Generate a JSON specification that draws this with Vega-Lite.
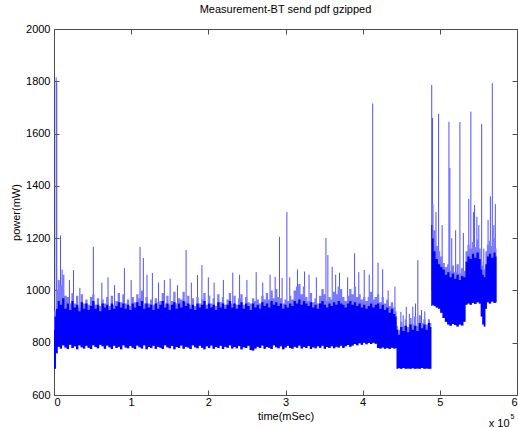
{
  "$schema": "https://vega.github.io/schema/vega-lite/v6.json",
  "width": 463,
  "height": 366,
  "autosize": "none",
  "padding": {"left": 54, "top": 29, "right": 1, "bottom": 32},
  "title": {"text": "Measurement-BT send pdf gzipped", "fontSize": 11, "fontWeight": "normal", "font": "Liberation Sans", "color": "black", "offset": 8},
  "config": {
    "view": {"stroke": null},
    "font": "Liberation Sans",
    "axis": {"labelFontSize": 11, "titleFontSize": 11, "titleFontWeight": "normal", "labelColor": "black", "titleColor": "black", "domainColor": "#4d4d4d", "tickColor": "#4d4d4d", "grid": false, "labelFont": "Liberation Sans", "titleFont": "Liberation Sans"}
  },
  "datasets": {
    "band": [
      {"t": 0, "low": 700, "high": 850, "peak": 920},
      {"t": 1500, "low": 700, "high": 900, "peak": 920},
      {"t": 3500, "low": 760, "high": 930, "peak": 1000},
      {"t": 6000, "low": 785, "high": 960, "peak": 1040},
      {"t": 9000, "low": 778, "high": 945, "peak": 1020},
      {"t": 12000, "low": 790, "high": 970, "peak": 1060},
      {"t": 15000, "low": 782, "high": 930, "peak": 980},
      {"t": 18000, "low": 776, "high": 950, "peak": 975},
      {"t": 21000, "low": 792, "high": 925, "peak": 950},
      {"t": 24000, "low": 780, "high": 960, "peak": 990},
      {"t": 27000, "low": 786, "high": 935, "peak": 950},
      {"t": 30000, "low": 775, "high": 945, "peak": 980},
      {"t": 33000, "low": 790, "high": 920, "peak": 935},
      {"t": 36000, "low": 783, "high": 955, "peak": 985},
      {"t": 39000, "low": 778, "high": 930, "peak": 950},
      {"t": 42000, "low": 788, "high": 950, "peak": 965},
      {"t": 45000, "low": 781, "high": 925, "peak": 945},
      {"t": 48000, "low": 776, "high": 940, "peak": 975},
      {"t": 51000, "low": 790, "high": 960, "peak": 985},
      {"t": 54000, "low": 784, "high": 930, "peak": 945},
      {"t": 57000, "low": 779, "high": 945, "peak": 970},
      {"t": 60000, "low": 792, "high": 920, "peak": 940},
      {"t": 63000, "low": 786, "high": 950, "peak": 965},
      {"t": 66000, "low": 777, "high": 935, "peak": 950},
      {"t": 69000, "low": 789, "high": 945, "peak": 975},
      {"t": 72000, "low": 783, "high": 925, "peak": 940},
      {"t": 75000, "low": 776, "high": 950, "peak": 980},
      {"t": 78000, "low": 788, "high": 930, "peak": 945},
      {"t": 81000, "low": 780, "high": 940, "peak": 960},
      {"t": 84000, "low": 785, "high": 955, "peak": 990},
      {"t": 87000, "low": 775, "high": 935, "peak": 955},
      {"t": 90000, "low": 790, "high": 950, "peak": 985},
      {"t": 93000, "low": 782, "high": 930, "peak": 950},
      {"t": 96000, "low": 779, "high": 945, "peak": 965},
      {"t": 99000, "low": 787, "high": 925, "peak": 940},
      {"t": 102000, "low": 781, "high": 950, "peak": 975},
      {"t": 105000, "low": 776, "high": 935, "peak": 955},
      {"t": 108000, "low": 789, "high": 955, "peak": 985},
      {"t": 111000, "low": 783, "high": 940, "peak": 970},
      {"t": 114000, "low": 778, "high": 960, "peak": 1000},
      {"t": 117000, "low": 790, "high": 930, "peak": 950},
      {"t": 120000, "low": 775, "high": 950, "peak": 975},
      {"t": 123000, "low": 784, "high": 935, "peak": 950},
      {"t": 126000, "low": 780, "high": 945, "peak": 965},
      {"t": 129000, "low": 788, "high": 925, "peak": 945},
      {"t": 132000, "low": 777, "high": 950, "peak": 970},
      {"t": 135000, "low": 785, "high": 930, "peak": 955},
      {"t": 138000, "low": 781, "high": 945, "peak": 960},
      {"t": 141000, "low": 776, "high": 960, "peak": 990},
      {"t": 144000, "low": 790, "high": 935, "peak": 950},
      {"t": 147000, "low": 783, "high": 950, "peak": 980},
      {"t": 150000, "low": 779, "high": 925, "peak": 945},
      {"t": 153000, "low": 787, "high": 945, "peak": 960},
      {"t": 156000, "low": 775, "high": 955, "peak": 995},
      {"t": 159000, "low": 784, "high": 930, "peak": 950},
      {"t": 162000, "low": 780, "high": 950, "peak": 970},
      {"t": 165000, "low": 789, "high": 935, "peak": 965},
      {"t": 168000, "low": 777, "high": 960, "peak": 995},
      {"t": 171000, "low": 785, "high": 940, "peak": 955},
      {"t": 174000, "low": 782, "high": 950, "peak": 980},
      {"t": 177000, "low": 776, "high": 930, "peak": 945},
      {"t": 180000, "low": 790, "high": 945, "peak": 970},
      {"t": 183000, "low": 783, "high": 925, "peak": 940},
      {"t": 186000, "low": 779, "high": 950, "peak": 975},
      {"t": 189000, "low": 788, "high": 935, "peak": 950},
      {"t": 192000, "low": 781, "high": 945, "peak": 965},
      {"t": 195000, "low": 775, "high": 960, "peak": 990},
      {"t": 198000, "low": 786, "high": 930, "peak": 945},
      {"t": 201000, "low": 780, "high": 950, "peak": 980},
      {"t": 204000, "low": 789, "high": 935, "peak": 950},
      {"t": 207000, "low": 777, "high": 945, "peak": 970},
      {"t": 210000, "low": 784, "high": 925, "peak": 940},
      {"t": 213000, "low": 780, "high": 955, "peak": 985},
      {"t": 216000, "low": 788, "high": 935, "peak": 955},
      {"t": 219000, "low": 776, "high": 950, "peak": 975},
      {"t": 222000, "low": 785, "high": 930, "peak": 945},
      {"t": 225000, "low": 781, "high": 945, "peak": 965},
      {"t": 228000, "low": 790, "high": 960, "peak": 990},
      {"t": 231000, "low": 778, "high": 935, "peak": 950},
      {"t": 234000, "low": 784, "high": 950, "peak": 980},
      {"t": 237000, "low": 779, "high": 930, "peak": 945},
      {"t": 240000, "low": 787, "high": 945, "peak": 970},
      {"t": 243000, "low": 775, "high": 955, "peak": 985},
      {"t": 246000, "low": 783, "high": 930, "peak": 945},
      {"t": 249000, "low": 780, "high": 950, "peak": 975},
      {"t": 252000, "low": 788, "high": 940, "peak": 955},
      {"t": 255000, "low": 772, "high": 925, "peak": 950},
      {"t": 258000, "low": 770, "high": 950, "peak": 970},
      {"t": 261000, "low": 778, "high": 935, "peak": 960},
      {"t": 264000, "low": 785, "high": 945, "peak": 965},
      {"t": 267000, "low": 780, "high": 930, "peak": 950},
      {"t": 270000, "low": 789, "high": 955, "peak": 980},
      {"t": 273000, "low": 777, "high": 940, "peak": 965},
      {"t": 276000, "low": 784, "high": 950, "peak": 990},
      {"t": 279000, "low": 781, "high": 935, "peak": 965},
      {"t": 282000, "low": 776, "high": 960, "peak": 1000},
      {"t": 285000, "low": 790, "high": 945, "peak": 970},
      {"t": 288000, "low": 783, "high": 955, "peak": 1005},
      {"t": 291000, "low": 779, "high": 940, "peak": 975},
      {"t": 294000, "low": 786, "high": 950, "peak": 970},
      {"t": 297000, "low": 775, "high": 930, "peak": 950},
      {"t": 300000, "low": 782, "high": 945, "peak": 965},
      {"t": 303000, "low": 788, "high": 935, "peak": 960},
      {"t": 306000, "low": 780, "high": 950, "peak": 980},
      {"t": 309000, "low": 777, "high": 940, "peak": 965},
      {"t": 312000, "low": 785, "high": 960, "peak": 1000},
      {"t": 315000, "low": 781, "high": 950, "peak": 1015},
      {"t": 318000, "low": 789, "high": 965, "peak": 1025},
      {"t": 321000, "low": 778, "high": 945, "peak": 985},
      {"t": 324000, "low": 784, "high": 960, "peak": 1015},
      {"t": 327000, "low": 780, "high": 950, "peak": 975},
      {"t": 330000, "low": 787, "high": 940, "peak": 960},
      {"t": 333000, "low": 776, "high": 955, "peak": 990},
      {"t": 336000, "low": 783, "high": 935, "peak": 955},
      {"t": 339000, "low": 779, "high": 945, "peak": 970},
      {"t": 342000, "low": 786, "high": 930, "peak": 950},
      {"t": 345000, "low": 781, "high": 950, "peak": 980},
      {"t": 348000, "low": 788, "high": 960, "peak": 1005},
      {"t": 351000, "low": 777, "high": 945, "peak": 985},
      {"t": 354000, "low": 784, "high": 935, "peak": 960},
      {"t": 357000, "low": 780, "high": 950, "peak": 975},
      {"t": 360000, "low": 786, "high": 940, "peak": 965},
      {"t": 363000, "low": 779, "high": 955, "peak": 995},
      {"t": 366000, "low": 785, "high": 945, "peak": 985},
      {"t": 369000, "low": 782, "high": 960, "peak": 1015},
      {"t": 372000, "low": 788, "high": 950, "peak": 1005},
      {"t": 375000, "low": 780, "high": 945, "peak": 975},
      {"t": 378000, "low": 786, "high": 935, "peak": 960},
      {"t": 381000, "low": 791, "high": 950, "peak": 980},
      {"t": 384000, "low": 785, "high": 960, "peak": 1005},
      {"t": 387000, "low": 789, "high": 945, "peak": 985},
      {"t": 390000, "low": 795, "high": 955, "peak": 1015},
      {"t": 393000, "low": 790, "high": 940, "peak": 975},
      {"t": 396000, "low": 798, "high": 950, "peak": 985},
      {"t": 399000, "low": 792, "high": 935, "peak": 965},
      {"t": 402000, "low": 800, "high": 945, "peak": 975},
      {"t": 405000, "low": 794, "high": 930, "peak": 960},
      {"t": 408000, "low": 799, "high": 940, "peak": 975},
      {"t": 411000, "low": 795, "high": 950, "peak": 995},
      {"t": 414000, "low": 800, "high": 935, "peak": 965},
      {"t": 417000, "low": 796, "high": 945, "peak": 975},
      {"t": 420000, "low": 780, "high": 950, "peak": 985},
      {"t": 423000, "low": 778, "high": 930, "peak": 955},
      {"t": 426000, "low": 782, "high": 945, "peak": 975},
      {"t": 429000, "low": 777, "high": 925, "peak": 950},
      {"t": 432000, "low": 780, "high": 935, "peak": 965},
      {"t": 435000, "low": 776, "high": 915, "peak": 940},
      {"t": 438000, "low": 781, "high": 930, "peak": 955},
      {"t": 441000, "low": 778, "high": 910, "peak": 935},
      {"t": 443500, "low": 779, "high": 900, "peak": 920},
      {"t": 444500, "low": 700, "high": 850, "peak": 865},
      {"t": 447000, "low": 702, "high": 830, "peak": 850},
      {"t": 450000, "low": 700, "high": 860, "peak": 880},
      {"t": 453000, "low": 703, "high": 845, "peak": 865},
      {"t": 456000, "low": 700, "high": 865, "peak": 890},
      {"t": 459000, "low": 701, "high": 840, "peak": 860},
      {"t": 462000, "low": 700, "high": 870, "peak": 895},
      {"t": 465000, "low": 702, "high": 850, "peak": 870},
      {"t": 468000, "low": 700, "high": 865, "peak": 900},
      {"t": 471000, "low": 701, "high": 845, "peak": 865},
      {"t": 474000, "low": 700, "high": 875, "peak": 905},
      {"t": 477000, "low": 703, "high": 855, "peak": 875},
      {"t": 480000, "low": 700, "high": 870, "peak": 890},
      {"t": 483000, "low": 701, "high": 850, "peak": 870},
      {"t": 486000, "low": 700, "high": 875, "peak": 890},
      {"t": 488500, "low": 700, "high": 860, "peak": 875},
      {"t": 489500, "low": 940, "high": 1250, "peak": 1420},
      {"t": 491000, "low": 945, "high": 1200, "peak": 1330},
      {"t": 493000, "low": 940, "high": 1150, "peak": 1230},
      {"t": 496000, "low": 935, "high": 1120, "peak": 1170},
      {"t": 499000, "low": 930, "high": 1100, "peak": 1150},
      {"t": 502000, "low": 915, "high": 1090, "peak": 1130},
      {"t": 505000, "low": 895, "high": 1080, "peak": 1105},
      {"t": 508000, "low": 880, "high": 1060, "peak": 1090},
      {"t": 511000, "low": 870, "high": 1070, "peak": 1100},
      {"t": 514000, "low": 865, "high": 1050, "peak": 1075},
      {"t": 517000, "low": 872, "high": 1065, "peak": 1095},
      {"t": 520000, "low": 868, "high": 1045, "peak": 1070},
      {"t": 523000, "low": 862, "high": 1060, "peak": 1100},
      {"t": 526000, "low": 870, "high": 1040, "peak": 1065},
      {"t": 529000, "low": 866, "high": 1055, "peak": 1085},
      {"t": 532000, "low": 880, "high": 1050, "peak": 1075},
      {"t": 534500, "low": 945, "high": 1110, "peak": 1150},
      {"t": 537000, "low": 950, "high": 1130, "peak": 1175},
      {"t": 540000, "low": 945, "high": 1120, "peak": 1160},
      {"t": 543000, "low": 952, "high": 1140, "peak": 1185},
      {"t": 546000, "low": 948, "high": 1125, "peak": 1165},
      {"t": 549000, "low": 955, "high": 1145, "peak": 1195},
      {"t": 552000, "low": 950, "high": 1120, "peak": 1160},
      {"t": 554000, "low": 900, "high": 1080, "peak": 1115},
      {"t": 556000, "low": 870, "high": 1060, "peak": 1095},
      {"t": 558000, "low": 862, "high": 1050, "peak": 1080},
      {"t": 560000, "low": 930, "high": 1100, "peak": 1150},
      {"t": 562000, "low": 955, "high": 1130, "peak": 1175},
      {"t": 565000, "low": 950, "high": 1140, "peak": 1190},
      {"t": 568000, "low": 958, "high": 1125, "peak": 1170},
      {"t": 571000, "low": 952, "high": 1145, "peak": 1200},
      {"t": 573500, "low": 955, "high": 1130, "peak": 1160}
    ],
    "spikes": [
      {"t": 2800, "from": 850, "top": 1815},
      {"t": 3600, "from": 850, "top": 1795},
      {"t": 8400, "from": 900, "top": 1210},
      {"t": 10500, "from": 900, "top": 1080},
      {"t": 20000, "from": 900, "top": 1040},
      {"t": 25300, "from": 900, "top": 1078},
      {"t": 33500, "from": 900, "top": 1010},
      {"t": 51000, "from": 900, "top": 1167},
      {"t": 62000, "from": 900, "top": 1030},
      {"t": 70000, "from": 900, "top": 1050},
      {"t": 78500, "from": 900, "top": 1020},
      {"t": 91200, "from": 900, "top": 1085},
      {"t": 100000, "from": 900, "top": 1040},
      {"t": 111500, "from": 900, "top": 1167},
      {"t": 115800, "from": 900, "top": 1124},
      {"t": 120500, "from": 900, "top": 1060},
      {"t": 127500, "from": 900, "top": 1067},
      {"t": 135500, "from": 900, "top": 1030},
      {"t": 143000, "from": 900, "top": 1040},
      {"t": 150500, "from": 900, "top": 1045},
      {"t": 160000, "from": 900, "top": 1020},
      {"t": 171200, "from": 900, "top": 1155},
      {"t": 178000, "from": 900, "top": 1030},
      {"t": 186000, "from": 900, "top": 1059},
      {"t": 191700, "from": 900, "top": 1097},
      {"t": 200000, "from": 900, "top": 1050},
      {"t": 207500, "from": 900, "top": 1030},
      {"t": 219500, "from": 900, "top": 1040},
      {"t": 231700, "from": 900, "top": 1068},
      {"t": 240500, "from": 900, "top": 1060},
      {"t": 250000, "from": 900, "top": 1040},
      {"t": 262000, "from": 900, "top": 1070},
      {"t": 270500, "from": 900, "top": 1030},
      {"t": 280000, "from": 900, "top": 1060},
      {"t": 286600, "from": 900, "top": 1052},
      {"t": 292200, "from": 900, "top": 1205},
      {"t": 295600, "from": 900, "top": 1048},
      {"t": 301800, "from": 900, "top": 1300},
      {"t": 305500, "from": 900, "top": 1050},
      {"t": 315500, "from": 900, "top": 1080},
      {"t": 324700, "from": 900, "top": 1072},
      {"t": 330500, "from": 900, "top": 1060},
      {"t": 340000, "from": 900, "top": 1050},
      {"t": 352400, "from": 900, "top": 1200},
      {"t": 354900, "from": 900, "top": 1135},
      {"t": 360500, "from": 900, "top": 1090},
      {"t": 365000, "from": 900, "top": 1060},
      {"t": 370000, "from": 900, "top": 1068},
      {"t": 380500, "from": 900, "top": 1050},
      {"t": 389500, "from": 900, "top": 1142},
      {"t": 395000, "from": 900, "top": 1070},
      {"t": 402000, "from": 900, "top": 1078},
      {"t": 408500, "from": 900, "top": 1060},
      {"t": 413000, "from": 900, "top": 1715},
      {"t": 419900, "from": 900, "top": 1106},
      {"t": 425900, "from": 880, "top": 1081},
      {"t": 433000, "from": 880, "top": 1000},
      {"t": 441800, "from": 880, "top": 1014},
      {"t": 449500, "from": 800, "top": 918},
      {"t": 452500, "from": 800, "top": 905},
      {"t": 456500, "from": 750, "top": 937},
      {"t": 460500, "from": 800, "top": 910},
      {"t": 465000, "from": 800, "top": 938},
      {"t": 468500, "from": 800, "top": 950},
      {"t": 471500, "from": 800, "top": 1116},
      {"t": 476300, "from": 800, "top": 925},
      {"t": 480500, "from": 800, "top": 920},
      {"t": 489500, "from": 1000, "top": 1786},
      {"t": 490500, "from": 1000, "top": 1660},
      {"t": 495000, "from": 1000, "top": 1300},
      {"t": 498400, "from": 1000, "top": 1675},
      {"t": 503000, "from": 1000, "top": 1250},
      {"t": 511800, "from": 1000, "top": 1645},
      {"t": 513000, "from": 1000, "top": 1468},
      {"t": 515500, "from": 1000, "top": 1200},
      {"t": 520500, "from": 1000, "top": 1230},
      {"t": 526000, "from": 1000, "top": 1644},
      {"t": 530500, "from": 1000, "top": 1220},
      {"t": 537500, "from": 1000, "top": 1350},
      {"t": 540200, "from": 1000, "top": 1684},
      {"t": 543500, "from": 1000, "top": 1300},
      {"t": 545000, "from": 1000, "top": 1327},
      {"t": 548000, "from": 1000, "top": 1282},
      {"t": 550500, "from": 1000, "top": 1250},
      {"t": 554200, "from": 1000, "top": 1637},
      {"t": 557000, "from": 1000, "top": 1160},
      {"t": 562500, "from": 1000, "top": 1270},
      {"t": 565500, "from": 1000, "top": 1360},
      {"t": 568000, "from": 1000, "top": 1793},
      {"t": 570000, "from": 1000, "top": 1250},
      {"t": 571900, "from": 1000, "top": 1330}
    ]
  },
  "layer": [
    {
      "data": {"name": "spikes"},
      "mark": {"type": "rule", "color": "#5050ff", "strokeWidth": 1},
      "encoding": {
        "x": {"field": "t", "type": "quantitative", "scale": {"domain": [0, 600000], "nice": false, "zero": false},
          "axis": {"orient": "bottom", "title": "time(mSec)", "values": [0, 100000, 200000, 300000, 400000, 500000, 600000], "labelExpr": "datum.value / 100000", "tickSize": -5, "labelPadding": 6, "titlePadding": 3}},
        "y": {"field": "top", "type": "quantitative", "scale": {"domain": [600, 2000], "nice": false, "zero": false},
          "axis": {"orient": "left", "title": "power(mW)", "format": "d", "values": [600, 800, 1000, 1200, 1400, 1600, 1800, 2000], "tickSize": -5, "labelPadding": 9, "titlePadding": 4}},
        "y2": {"field": "from"}
      }
    },
    {
      "data": {"name": "band"},
      "mark": {"type": "area", "color": "#7a7aff", "interpolate": "step"},
      "encoding": {
        "x": {"field": "t", "type": "quantitative", "axis": {"orient": "top", "title": null, "labels": false, "values": [0, 100000, 200000, 300000, 400000, 500000, 600000], "tickSize": -5}},
        "y": {"field": "low", "type": "quantitative", "axis": {"orient": "right", "title": null, "labels": false, "values": [600, 800, 1000, 1200, 1400, 1600, 1800, 2000], "tickSize": -5}},
        "y2": {"field": "peak"}
      }
    },
    {
      "data": {"name": "band"},
      "mark": {"type": "area", "color": "#0000ff", "interpolate": "step"},
      "encoding": {
        "x": {"field": "t", "type": "quantitative", "axis": {"orient": "bottom", "title": "x 10", "labels": false, "ticks": false, "domain": false, "titleAlign": "right", "titleBaseline": "alphabetic", "titleX": 455, "titleY": 31, "titleFontSize": 11}},
        "y": {"field": "low", "type": "quantitative", "axis": null},
        "y2": {"field": "high"}
      }
    },
    {
      "data": {"name": "spikes"},
      "mark": {"type": "rule", "opacity": 0},
      "encoding": {
        "x": {"field": "t", "type": "quantitative", "axis": {"orient": "bottom", "title": "5", "labels": false, "ticks": false, "domain": false, "titleAlign": "left", "titleBaseline": "alphabetic", "titleX": 456, "titleY": 23, "titleFontSize": 7}},
        "y": {"field": "top", "type": "quantitative", "axis": null},
        "y2": {"field": "from"}
      }
    }
  ],
  "resolve": {"axis": {"x": "independent", "y": "independent"}}
}
